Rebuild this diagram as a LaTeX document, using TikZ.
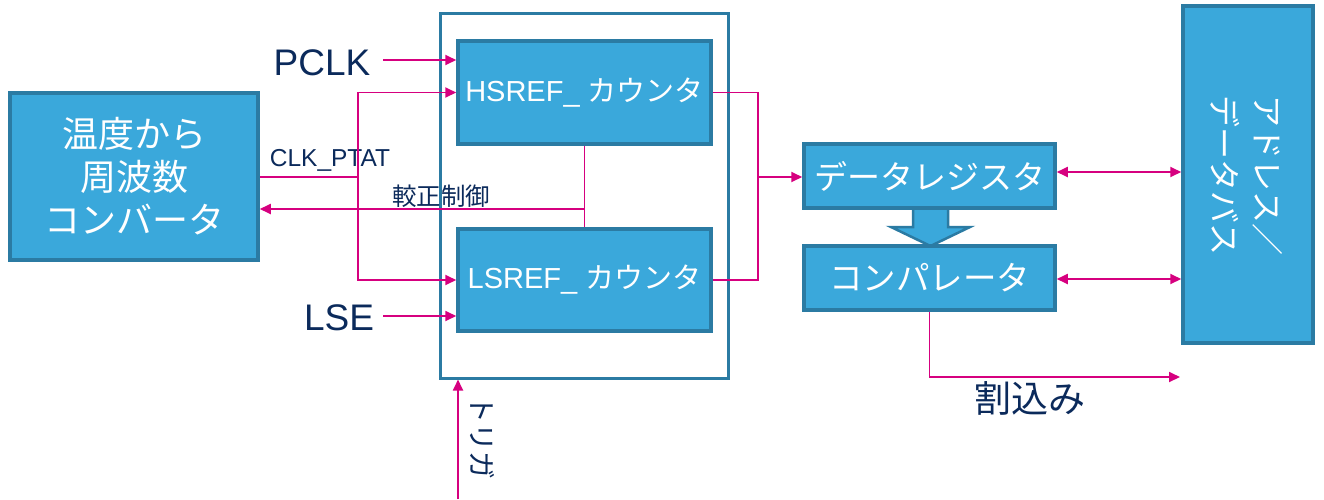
\documentclass[tikz,border=0pt]{standalone}
\usepackage{fontspec}
\setmainfont{Liberation Sans}
\newfontfamily\jp{Noto Sans CJK JP}
\usetikzlibrary{arrows.meta}
\definecolor{boxfill}{HTML}{3AA8DB}
\definecolor{boxline}{HTML}{2B7BA3}
\definecolor{sigcol}{HTML}{D6007F}
\definecolor{navy}{HTML}{0B2A5B}
\tikzset{
  blk/.style={draw=boxline, line width=3.5pt, fill=boxfill, text=white, inner sep=0pt, align=center},
  frm/.style={draw=boxline, line width=3pt, inner sep=0pt},
  sig/.style={draw=sigcol, line width=1.8pt, -{Triangle[length=11pt,width=10pt]}},
  sigb/.style={draw=sigcol, line width=1.8pt, {Triangle[length=11pt,width=10pt]}-{Triangle[length=11pt,width=10pt]}},
  wire/.style={draw=sigcol, line width=1.8pt},
  lbl/.style={text=navy, inner sep=0pt},
}
\begin{document}
\begin{tikzpicture}[x=1pt,y=-1pt]
\useasboundingbox (0,0) rectangle (1324,499);
% frame
\node[frm, minimum width=288, minimum height=365] (frame) at (584,195.5) {};
% block arrow between data register and comparator
\filldraw[fill=boxfill, draw=boxline, line width=2.5pt, line join=miter]
  (913,206) -- (948,206) -- (948,227) -- (970,227) -- (930.5,246) -- (891,227) -- (913,227) -- cycle;
% boxes
\node[blk, minimum width=248, minimum height=167, font=\jp\fontsize{36}{43}\selectfont] (conv) at (134,176.5) {温度から\\周波数\\コンバータ};
\node[blk, minimum width=253, minimum height=103, font=\fontsize{29}{34}\selectfont] (HS) at (584.5,92.5) {HSREF\_ {\jp カウンタ}};
\node[blk, minimum width=253, minimum height=102, font=\fontsize{29}{34}\selectfont] (LS) at (584.5,280) {LSREF\_ {\jp カウンタ}};
\node[blk, minimum width=251, minimum height=64, font=\jp\fontsize{33}{40}\selectfont] (DR) at (929.5,176) {データレジスタ};
\node[blk, minimum width=251, minimum height=64, font=\jp\fontsize{33.5}{40}\selectfont] (CMP) at (929.5,278) {コンパレータ};
\node[blk, minimum width=130, minimum height=337] (BUS) at (1248,174.5) {};
\node[text=white, rotate=-90, align=center, font=\jp\fontsize{32}{43}\selectfont, inner sep=0pt] (bustxt) at (1247,175) {アドレス／\\データバス};
% labels
\node[lbl, font=\fontsize{37}{42}\selectfont] (pclk) at (322,63) {PCLK};
\node[lbl, font=\fontsize{37}{42}\selectfont] (lse) at (339,318) {LSE};
\node[lbl, font=\fontsize{24.5}{28}\selectfont] (ptat) at (330,160) {CLK\_PTAT};
\node[lbl, font=\jp\fontsize{24.5}{28}\selectfont] (kou) at (441,196) {較正制御};
\node[lbl, font=\jp\fontsize{37}{42}\selectfont] (irqt) at (1030,398) {割込み};
\node[lbl, font=\jp\fontsize{28}{32}\selectfont, rotate=-90] (trgt) at (482,437) {トリガ};
% coordinates
\coordinate (pclks) at (383,60);
\coordinate (lses) at (383,316);
\coordinate (j1) at (358,177);
\coordinate (k) at (584,209);
\coordinate (m) at (758,177);
\coordinate (irq) at (1180,377);
\coordinate (trg) at (458,499);
% connectors
\draw[sig] (pclks) -- (HS.west |- pclks);
\draw[sig] (lses) -- (LS.west |- lses);
\draw[wire] (conv.east |- j1) -- (j1);
\draw[sig] (j1) |- (HS.west);
\draw[sig] (j1) |- (LS.west);
\draw[wire] (HS.south) -- (LS.north);
\draw[sig] (k) -- (conv.east |- k);
\draw[wire] (HS.east) -| (m);
\draw[wire] (LS.east) -| (m);
\draw[sig] (m) -- (DR.west |- m);
\draw[sigb] (DR.east |- 0,172) -- (BUS.west |- 0,172);
\draw[sigb] (CMP.east |- 0,279) -- (BUS.west |- 0,279);
\draw[sig] (CMP.south) |- (irq);
\draw[sig] (trg) -- (frame.south -| trg);
\end{tikzpicture}
\end{document}
